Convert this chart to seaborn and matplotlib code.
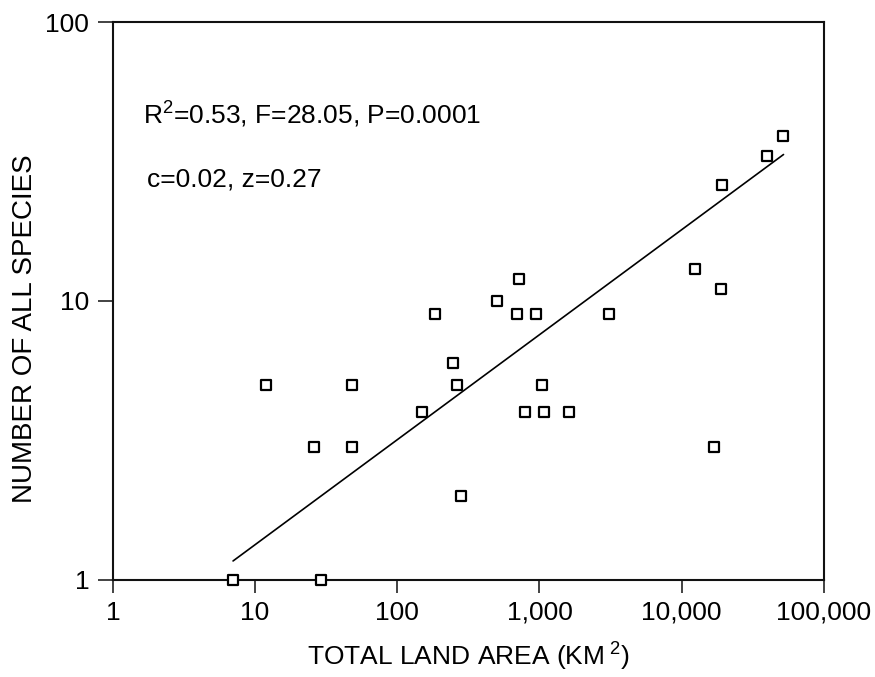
import numpy as np
import pandas as pd
import matplotlib
matplotlib.use("Agg")
import matplotlib.pyplot as plt
import matplotlib.ticker as mticker
import seaborn as sns

# island land area (km2) and number of species
area = [7, 29, 12, 26, 48, 48, 150, 185, 245, 265, 280, 500, 715, 700, 940,
        790, 1035, 1070, 1600, 3100, 12500, 19000, 19300, 17000, 40000, 51500]
species = [1, 1, 5, 3, 3, 5, 4, 9, 6, 5, 2, 10, 12, 9, 9,
           4, 5, 4, 4, 9, 13, 11, 26, 3, 33, 39]

# regression line as drawn in the figure
fit_area = [7, 52000]
fit_species = [1.17, 33.5]

x_ticks = [1, 10, 100, 1000, 10000, 100000]
x_labels = ["1", "10", "100", "1,000", "10,000", "100,000"]
y_ticks = [1, 10, 100]
y_labels = ["1", "10", "100"]

df = pd.DataFrame({"area": area, "species": species})
fit = pd.DataFrame({"area": fit_area, "species": fit_species})

sns.set_style("ticks")
plt.rcParams["font.family"] = ["Liberation Sans", "DejaVu Sans"]
plt.rcParams["mathtext.fontset"] = "custom"
plt.rcParams["mathtext.rm"] = "Liberation Sans"
plt.rcParams["mathtext.it"] = "Liberation Sans"
plt.rcParams["text.color"] = "black"
plt.rcParams["axes.labelcolor"] = "black"
plt.rcParams["xtick.labelcolor"] = "black"
plt.rcParams["ytick.labelcolor"] = "black"

fig = plt.figure(figsize=(8.75, 6.77), dpi=100)
ax = fig.add_axes([0.129, 0.1433, 0.8126, 0.8242])

sns.lineplot(data=fit, x="area", y="species", color="black", lw=1.2, ax=ax)
sns.scatterplot(data=df, x="area", y="species", marker="s", s=60,
                facecolor="white", edgecolor="black", linewidth=1.6,
                zorder=3, clip_on=False, ax=ax)

ax.set_xscale("log")
ax.set_yscale("log")
ax.set_xlim(1, 100000)
ax.set_ylim(1, 100)
ax.xaxis.set_major_locator(mticker.FixedLocator(x_ticks))
ax.xaxis.set_major_formatter(mticker.FixedFormatter(x_labels))
ax.yaxis.set_major_locator(mticker.FixedLocator(y_ticks))
ax.yaxis.set_major_formatter(mticker.FixedFormatter(y_labels))
ax.xaxis.set_minor_locator(mticker.NullLocator())
ax.yaxis.set_minor_locator(mticker.NullLocator())
ax.tick_params(axis="x", direction="out", length=9, width=1.2, labelsize=19,
               pad=6, color="#222222", labelcolor="black")
ax.tick_params(axis="y", direction="out", length=11, width=1.2, labelsize=19,
               pad=6, color="#222222", labelcolor="black")

for side in ["left", "right", "top", "bottom"]:
    ax.spines[side].set_visible(True)
    ax.spines[side].set_linewidth(1.5)
    ax.spines[side].set_color("#111111")

ax.set_xlabel("TOTAL LAND AREA (KM$^{\\ 2}$)", fontsize=19, color="black")
ax.xaxis.label.set_va("center")
ax.xaxis.set_label_coords(0.5, -0.137)
ax.set_ylabel("NUMBER OF ALL SPECIES", fontsize=20, color="black")
ax.yaxis.label.set_va("center")
ax.yaxis.label.set_rotation_mode("default")
ax.yaxis.set_label_coords(-0.124, 0.45)

ax.text(0.042, 0.834, "R$^2$=0.53, F=28.05, P=0.0001", transform=ax.transAxes,
        fontsize=19, va="center", color="black")
ax.text(0.048, 0.718, "c=0.02, z=0.27", transform=ax.transAxes,
        fontsize=19, va="center", color="black")

fig.savefig("out.png", dpi=100)
